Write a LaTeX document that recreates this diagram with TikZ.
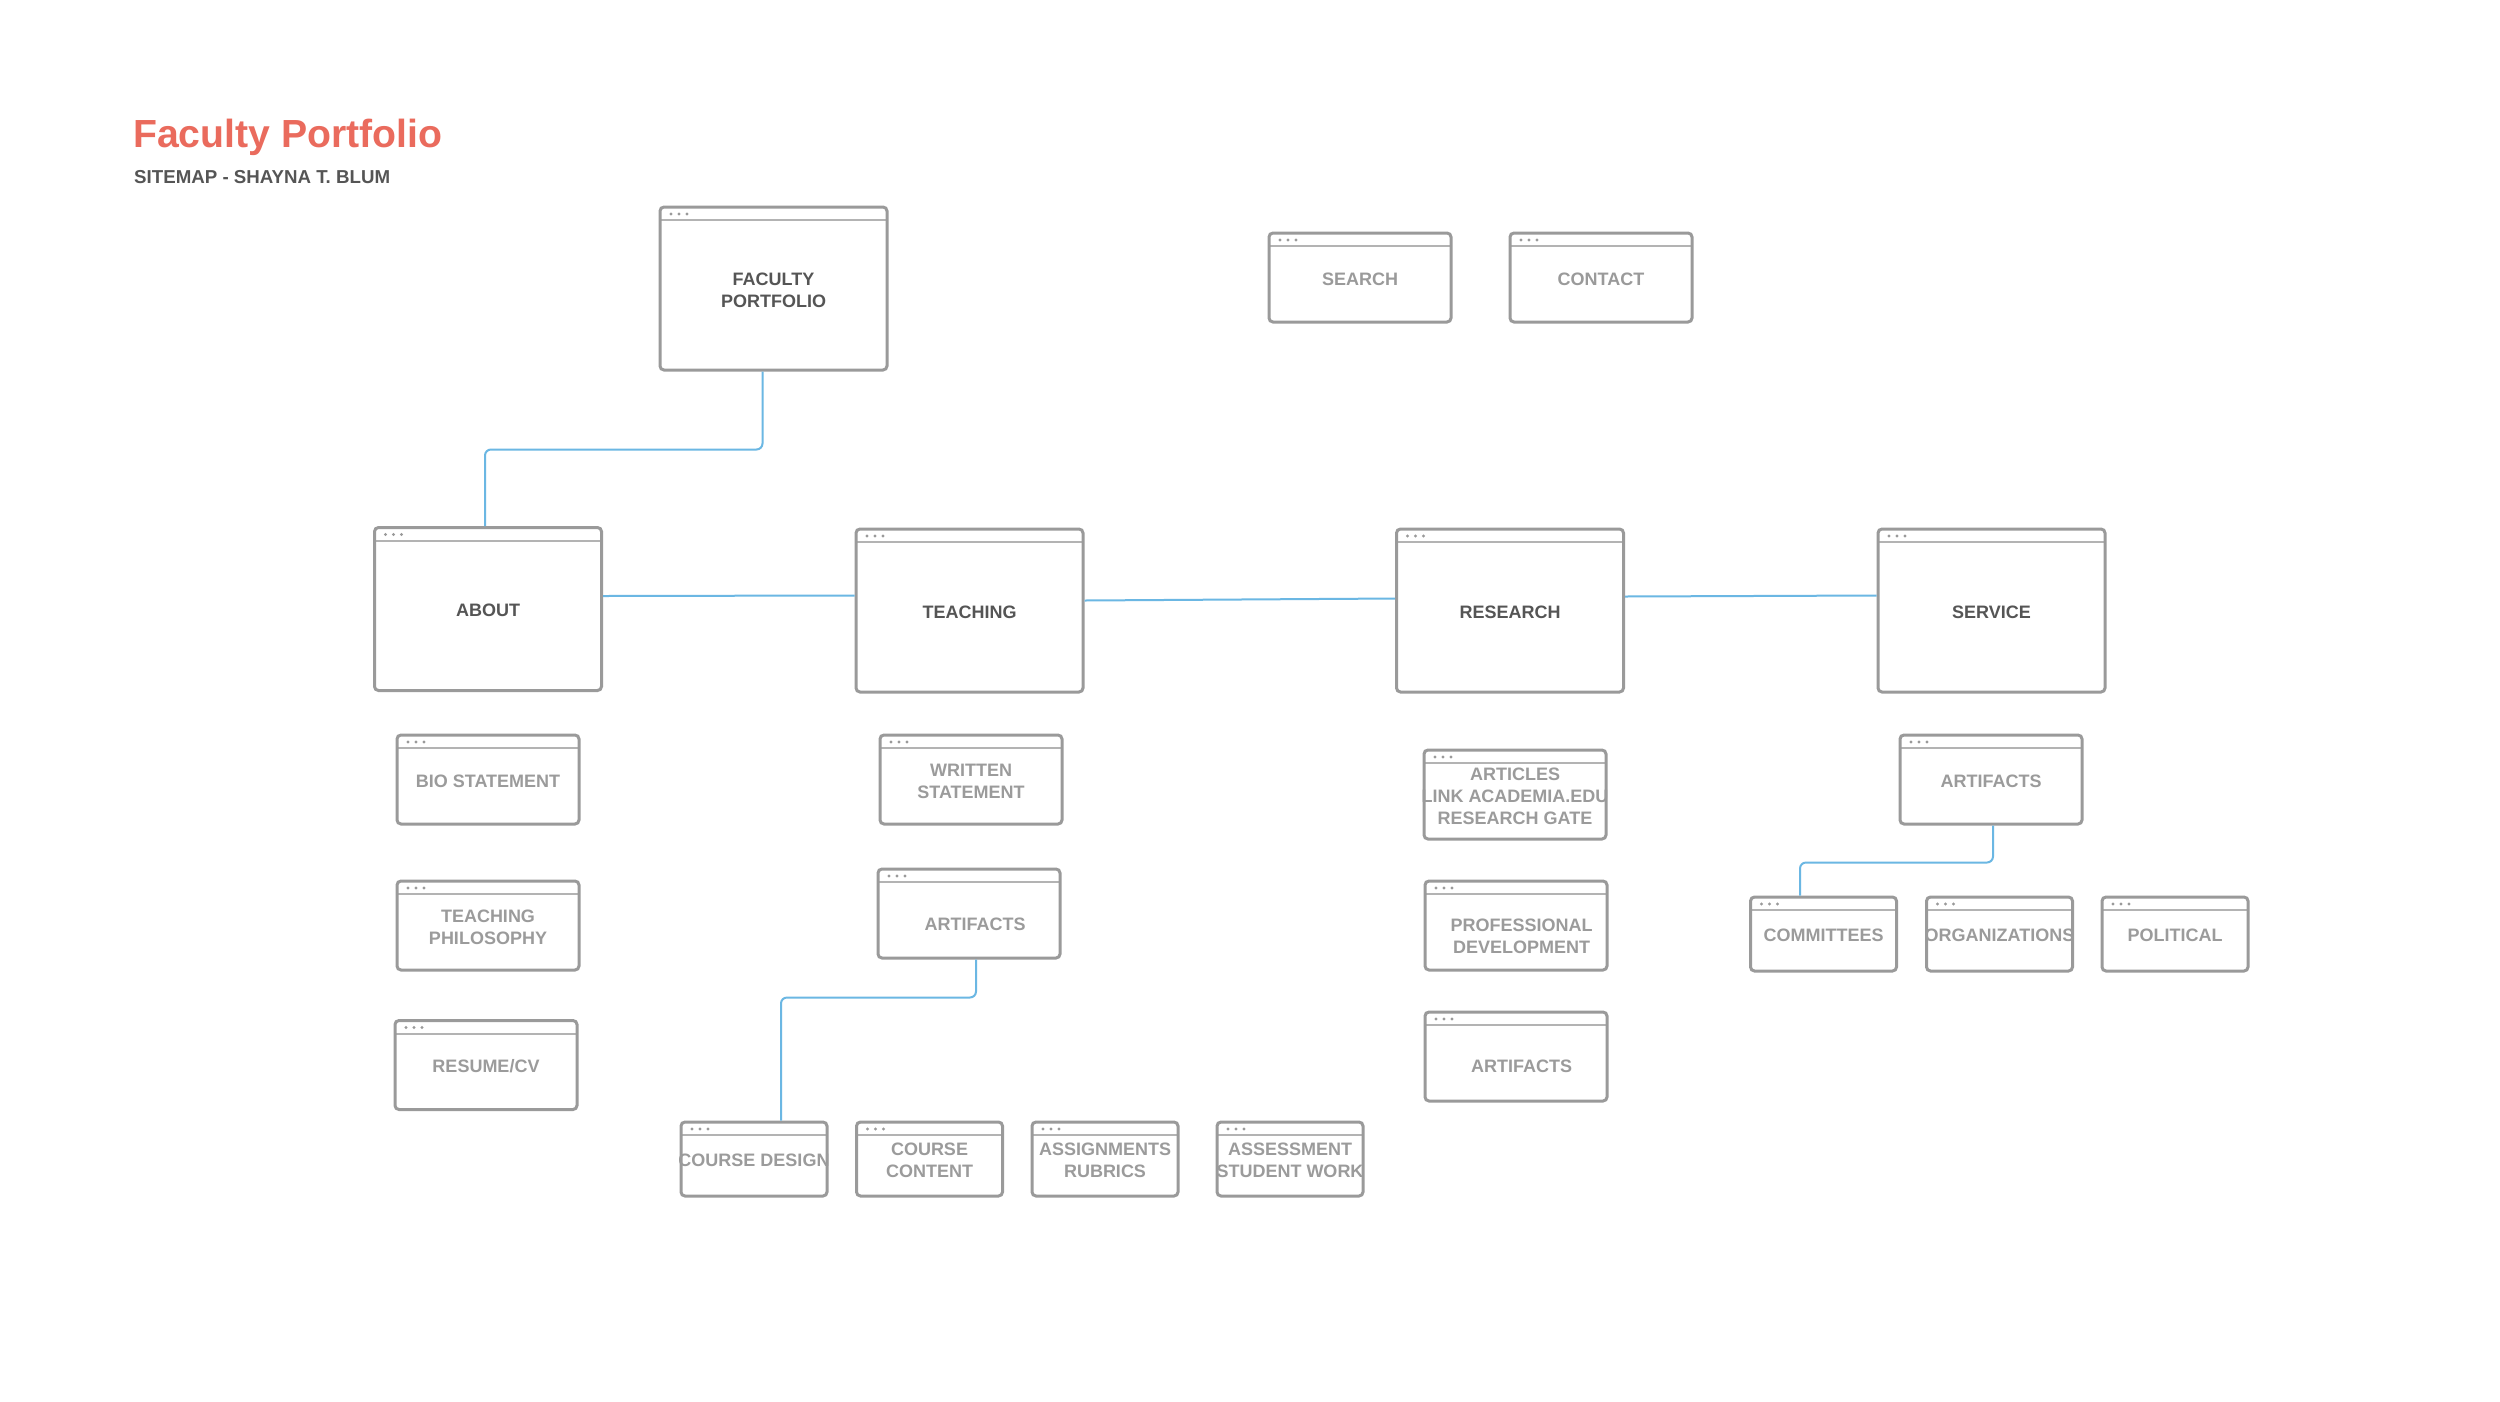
\documentclass[tikz,border=0pt]{standalone}
\usepackage{fontspec}
\setmainfont{Liberation Sans}
\usetikzlibrary{calc}

\definecolor{titlered}{HTML}{EA6B5D}
\definecolor{darktext}{HTML}{555555}
\definecolor{lighttext}{HTML}{9B9B9B}
\definecolor{frame}{HTML}{9A9A9A}
\definecolor{linkblue}{HTML}{6BB7E3}

% centred label that may run past the frame; optional arg lowers it
\newcommand{\boxtext}[2][3.5pt]{\raisebox{-#1}[\height][\depth]{\makebox[0pt]{\begin{tabular}{@{}c@{}}#2\end{tabular}}}}

\tikzset{
  page/.style={draw=frame, line width=3pt, rounded corners=4pt, fill=white, inner sep=0pt,
    path picture={
      \draw[frame!75, line width=2pt, sharp corners] ([yshift=-13pt]path picture bounding box.north west)
        -- ([yshift=-13pt]path picture bounding box.north east);
      \foreach \dx in {11,19,27}
        \fill[frame] ([shift={(\dx pt,-7pt)}]path picture bounding box.north west) circle (1.6pt);
    }},
  mainpage/.style={page, minimum width=227pt, minimum height=163pt, text=darktext},
  subpage/.style={page, minimum width=182pt, minimum height=89pt, text=lighttext},
  leafpage/.style={page, minimum width=146pt, minimum height=74pt, text=lighttext},
  link/.style={draw=linkblue, line width=2pt, rounded corners=6pt},
}

\begin{document}
\begin{tikzpicture}[x=1pt, y=-1pt, font=\fontsize{18}{22}\selectfont\bfseries]
\fill[white] (0,0) rectangle (2500,1401);
\useasboundingbox (0,0) rectangle (2500,1401);

% Title
\node[anchor=base west, inner sep=0pt, text=titlered, font=\fontsize{39.2}{44}\selectfont\bfseries] (title) at (133,147) {Faculty Portfolio};
\node[anchor=base west, inner sep=0pt, text=darktext, font=\fontsize{18.7}{22}\selectfont\bfseries] (subtitle) at (134,183) {SITEMAP - SHAYNA T. BLUM};

% Home and utility pages
\node[mainpage] (home) at (773.5,288.5) {\boxtext{FACULTY\\PORTFOLIO}};
\node[subpage, text=frame] (search) at (1360,277.5) {\boxtext{SEARCH}};
\node[subpage, text=frame] (contact) at (1601,277.5) {\boxtext{CONTACT}};

% Main sections
\node[mainpage] (about) at (488,609) {\boxtext{ABOUT}};
\node[mainpage] (teaching) at (969.5,610.5) {\boxtext{TEACHING}};
\node[mainpage] (research) at (1510,610.5) {\boxtext{RESEARCH}};
\node[mainpage] (service) at (1991.5,610.5) {\boxtext{SERVICE}};

% About
\node[subpage] (bio) at (488,779.5) {\boxtext{BIO STATEMENT}};
\node[subpage] (philosophy) at (488,925.5) {\boxtext{TEACHING\\PHILOSOPHY}};
\node[subpage] (resume) at (486,1065) {\boxtext{RESUME/CV}};

% Teaching
\node[subpage] (written) at (971,779.5) {\boxtext{WRITTEN\\STATEMENT}};
\node[subpage] (tartifacts) at (969,913.5) {\boxtext[12.5pt]{\hspace*{12pt}ARTIFACTS}};
\node[leafpage] (cdesign) at (754,1159) {\boxtext{COURSE DESIGN}};
\node[leafpage] (ccontent) at (929.5,1159) {\boxtext{COURSE\\CONTENT}};
\node[leafpage] (assign) at (1105,1159) {\boxtext{ASSIGNMENTS\\RUBRICS}};
\node[leafpage] (assess) at (1290,1159) {\boxtext{ASSESSMENT\\STUDENT WORK}};

% Research
\node[subpage] (articles) at (1515,794.5) {\boxtext{ARTICLES\\LINK ACADEMIA.EDU\\RESEARCH GATE}};
\node[subpage] (profdev) at (1516,925.5) {\boxtext[13pt]{\hspace*{11pt}PROFESSIONAL\\\hspace*{11pt}DEVELOPMENT}};
\node[subpage] (rartifacts) at (1516,1056.5) {\boxtext[12pt]{\hspace*{11pt}ARTIFACTS}};

% Service
\node[subpage] (sartifacts) at (1991,779.5) {\boxtext{ARTIFACTS}};
\node[leafpage] (committees) at (1823.5,934) {\boxtext{COMMITTEES}};
\node[leafpage] (orgs) at (1999.5,934) {\boxtext{ORGANIZATIONS}};
\node[leafpage] (political) at (2175,934) {\boxtext{POLITICAL}};

% Links
\draw[link] ([xshift=-11pt]home.south) -- ++(0,78) -| ([xshift=-3pt]about.north);
\draw[link] ([yshift=13pt]about.east) -- ([yshift=15pt]teaching.west);
\draw[link] ([yshift=10pt]teaching.east) -- ([yshift=12pt]research.west);
\draw[link] ([yshift=14pt]research.east) -- ([yshift=15pt]service.west);
\draw[link] ([xshift=7pt]tartifacts.south) -- ++(0,38) -| ([xshift=27pt]cdesign.north);
\draw[link] ([xshift=2pt]sartifacts.south) -- ++(0,37) -| ([xshift=-23.5pt]committees.north);
\end{tikzpicture}
\end{document}
